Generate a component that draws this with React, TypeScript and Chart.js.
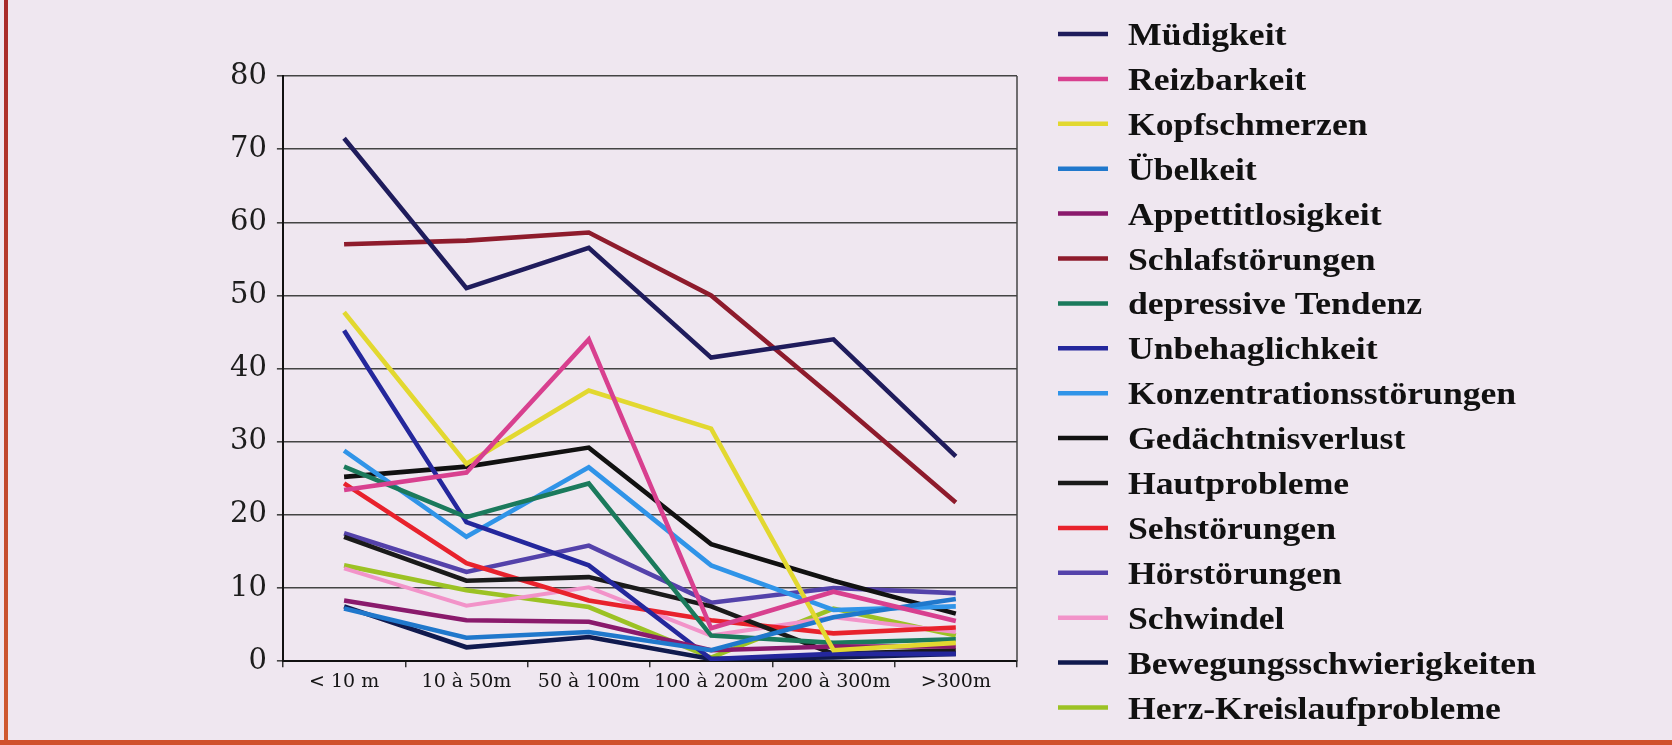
import React, { useEffect, useRef } from "react";
import { Chart, registerables } from "chart.js";

Chart.register(...registerables);

const categories = ["< 10 m", "10 à 50m", "50 à 100m", "100 à 200m", "200 à 300m", ">300m"];
const yTicks = [0, 10, 20, 30, 40, 50, 60, 70, 80];

const seriesLabels = [
  "Müdigkeit",
  "Reizbarkeit",
  "Kopfschmerzen",
  "Übelkeit",
  "Appettitlosigkeit",
  "Schlafstörungen",
  "depressive Tendenz",
  "Unbehaglichkeit",
  "Konzentrationsstörungen",
  "Gedächtnisverlust",
  "Hautprobleme",
  "Sehstörungen",
  "Hörstörungen",
  "Schwindel",
  "Bewegungsschwierigkeiten",
  "Herz-Kreislaufprobleme",
];

const muedigkeit = [71.5, 51, 56.5, 41.5, 44, 28];
const reizbarkeit = [23.4, 25.8, 44, 4.5, 9.5, 5.5];
const kopfschmerzen = [47.7, 27, 37, 31.8, 1.5, 2.5];
const uebelkeit = [7.2, 3.2, 4, 1.5, 6, 8.5];
const appetitlosigkeit = [8.3, 5.6, 5.4, 1.5, 2, 2];
const schlafstoerungen = [57, 57.5, 58.6, 50, 36, 21.7];
const depressiv = [26.6, 19.7, 24.3, 3.5, 2.5, 3];
const unbehaglichkeit = [45.2, 19, 13.1, 0.3, 1, 1];
const konzentration = [28.8, 17, 26.5, 13.1, 7, 7.5];
const gedaechtnis = [25.2, 26.6, 29.2, 16, 11, 6.5];
const hautprobleme = [17, 11, 11.5, 7.5, 1, 1.5];
const sehstoerungen = [24.3, 13.4, 8.3, 5.6, 3.8, 4.6];
const hoerstoerungen = [17.5, 12.2, 15.8, 8, 10, 9.3];
const schwindel = [12.7, 7.6, 10.1, 3.5, 6, 4];
const bewegung = [7.5, 1.9, 3.3, 0.3, 0.5, 1];
const herzKreislauf = [13.1, 9.7, 7.4, 0.5, 7.2, 3.5];

const seriesValues = [
  muedigkeit,
  reizbarkeit,
  kopfschmerzen,
  uebelkeit,
  appetitlosigkeit,
  schlafstoerungen,
  depressiv,
  unbehaglichkeit,
  konzentration,
  gedaechtnis,
  hautprobleme,
  sehstoerungen,
  hoerstoerungen,
  schwindel,
  bewegung,
  herzKreislauf,
];

const seriesColors = [
  "#1f1c5c",
  "#d8408f",
  "#e2d830",
  "#2078cc",
  "#8a1a6c",
  "#8e1b2c",
  "#1b7a5c",
  "#24279c",
  "#3094e8",
  "#111111",
  "#1a1a1a",
  "#e8222c",
  "#5442aa",
  "#f293c9",
  "#101a4e",
  "#9cc224",
];

const legendPlugin = {
  id: "customLegendAndFrame",
  afterDraw(chart: any) {
    const ctx = chart.ctx;
    const area = chart.chartArea;
    ctx.save();
    // right frame line of the plot
    ctx.strokeStyle = "#444";
    ctx.lineWidth = 1.5;
    ctx.beginPath();
    ctx.moveTo(area.right, area.top);
    ctx.lineTo(area.right, area.bottom);
    ctx.stroke();

    // legend
    chart.data.datasets.forEach((ds: any, i: number) => {
      const base = 45 + i * 44.9;
      ctx.strokeStyle = ds.borderColor;
      ctx.lineWidth = 4.5;
      ctx.beginPath();
      ctx.moveTo(1058, base - 11);
      ctx.lineTo(1108, base - 11);
      ctx.stroke();
      ctx.save();
      ctx.translate(1128, base);
      ctx.scale(1.15, 1);
      ctx.font = 'bold 31px "Liberation Serif"';
      ctx.fillStyle = "#111";
      ctx.textBaseline = "alphabetic";
      ctx.textAlign = "left";
      ctx.fillText(ds.label, 0, 0);
      ctx.restore();
    });
    ctx.restore();
  },
};

export default function App() {
  const canvasRef = useRef<HTMLCanvasElement | null>(null);

  useEffect(() => {
    if (!canvasRef.current) return;
    const chart = new Chart(canvasRef.current, {
      type: "line",
      data: {
        labels: categories,
        datasets: seriesLabels.map((label, i) => ({
          label,
          data: seriesValues[i],
          borderColor: seriesColors[i],
          backgroundColor: seriesColors[i],
          borderWidth: i === 13 ? 4 : 4.6,
          pointRadius: 0,
          tension: 0,
          fill: false,
        })),
      },
      options: {
        responsive: false,
        animation: false,
        devicePixelRatio: 1,
        layout: { padding: { left: 220, right: 655, top: 76, bottom: 49 } },
        plugins: {
          legend: { display: false },
          tooltip: { enabled: false },
        },
        scales: {
          x: {
            type: "category",
            offset: true,
            grid: {
              offset: true,
              drawOnChartArea: false,
              drawTicks: true,
              tickLength: 6,
              color: "#333",
              lineWidth: 1.5,
            },
            border: { display: true, color: "#111", width: 2 },
            ticks: {
              font: { family: "DejaVu Serif", size: 19 },
              color: "#151515",
              padding: 3,
              maxRotation: 0,
              autoSkip: false,
            },
          },
          y: {
            min: 0,
            max: 80,
            afterBuildTicks: (scale: any) => {
              scale.ticks = yTicks.map((v) => ({ value: v }));
            },
            grid: {
              color: "#444",
              lineWidth: 1.6,
              tickLength: 6,
              drawTicks: true,
            },
            border: { display: true, color: "#111", width: 2 },
            ticks: {
              font: { family: "DejaVu Serif", size: 29 },
              color: "#1d1d1d",
              padding: 10,
            },
          },
        },
      },
      plugins: [legendPlugin],
    });
    return () => chart.destroy();
  }, []);

  return (
    <div
      style={{
        position: "fixed",
        left: 0,
        top: 0,
        width: 1672,
        height: 745,
        background: "#efe7f0",
        overflow: "hidden",
      }}
    >
      <div
        style={{
          position: "absolute",
          left: 4,
          top: 0,
          width: 4,
          height: 745,
          background: "linear-gradient(#a82a2a, #d05a30)",
        }}
      />
      <div
        style={{
          position: "absolute",
          left: 0,
          top: 740,
          width: 1672,
          height: 5,
          background: "#d0502c",
        }}
      />
      <canvas
        ref={canvasRef}
        width={1672}
        height={745}
        style={{ position: "absolute", left: 0, top: 0, width: 1672, height: 745 }}
      />
    </div>
  );
}
